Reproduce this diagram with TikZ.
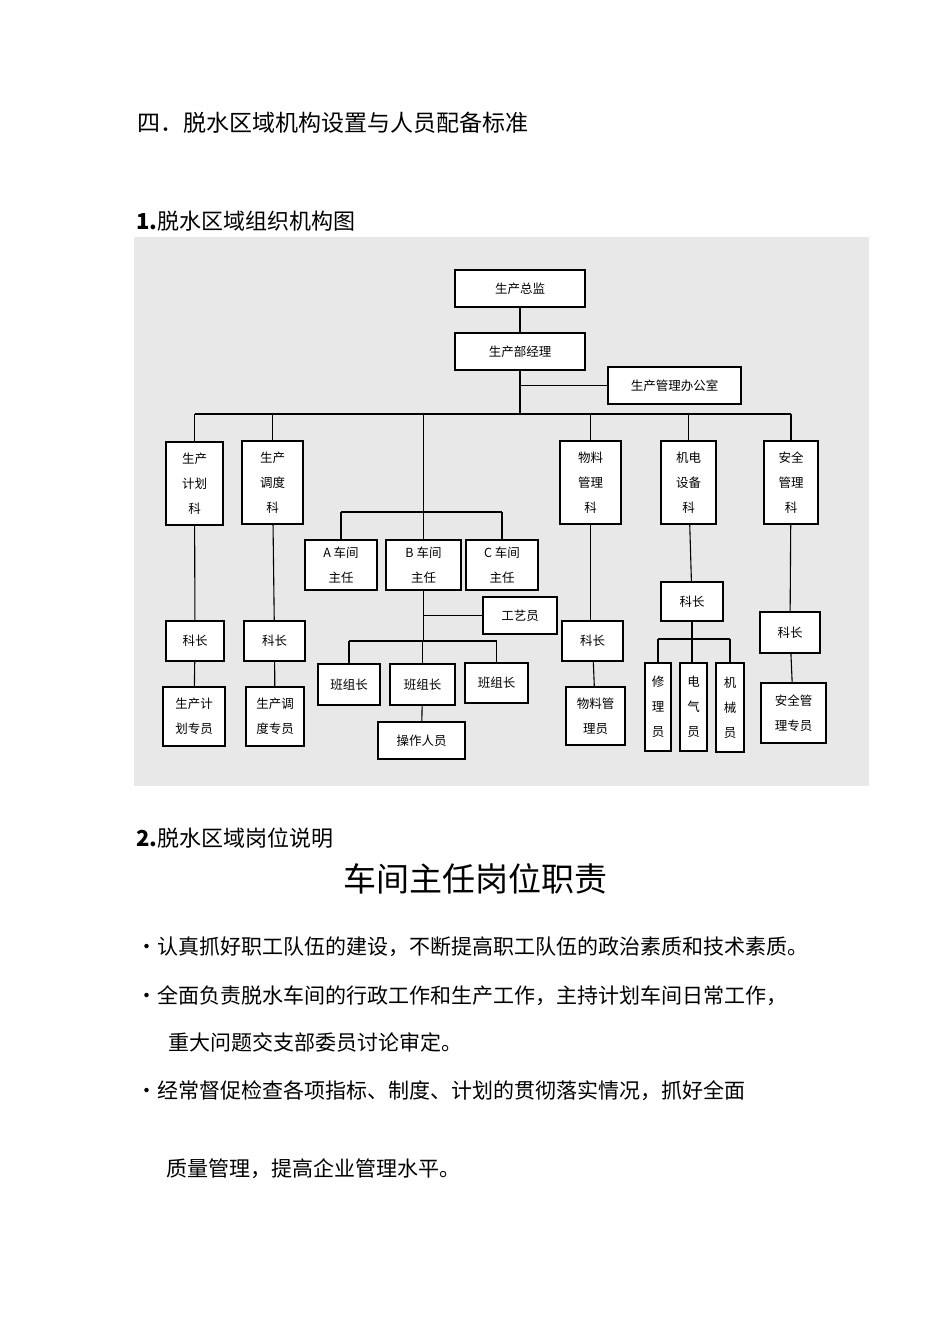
\documentclass[tikz,border=0pt]{standalone}
\usepackage{fontspec}
\newfontfamily\cjk{Noto Sans CJK SC}
\setmainfont{Noto Sans CJK SC}
\begin{document}
\begin{tikzpicture}[x=1pt,y=-1pt,
  box/.style={draw,line width=1.1pt,fill=white,inner sep=0pt,align=center,font=\cjk\fontsize{12.5}{25}\selectfont},
  ln/.style={line width=1.1pt},
  body/.style={anchor=base west,inner sep=0pt,font=\cjk\fontsize{21}{26}\selectfont}]
\useasboundingbox (0,0) rectangle (950,1344);
\fill[white] (0,0) rectangle (950,1344);
\fill[black!9] (134,237) rectangle (869,786);
% helper: node by corners
\newcommand\bx[6]{\node[box,minimum width=#4-#2,minimum height=#5-#3] (#1) at ({(#2+#4)/2},{(#3+#5)/2}) {#6};}
\bx{zj}{455}{270}{585}{307}{生产总监}
\bx{jl}{455}{333}{585}{370}{生产部经理}
\bx{bgs}{608}{367}{741}{404}{生产管理办公室}
\bx{jh}{166}{442}{223}{525}{生产\\计划\\科}
\bx{dd}{242}{441}{303}{524}{生产\\调度\\科}
\bx{wl}{560}{441}{621}{524}{物料\\管理\\科}
\bx{jd}{661}{441}{716}{524}{机电\\设备\\科}
\bx{aq}{764}{441}{818}{524}{安全\\管理\\科}
\bx{A}{305}{540}{377}{590}{A 车间\\主任}
\bx{B}{386}{540}{461}{590}{B 车间\\主任}
\bx{C}{466}{540}{538}{590}{C 车间\\主任}
\bx{gy}{483}{597}{557}{634}{工艺员}
\bx{b1}{318}{664}{380}{705}{班组长}
\bx{b2}{390}{664}{455}{705}{班组长}
\bx{b3}{465}{663}{528}{703}{班组长}
\bx{cz}{378}{722}{465}{759}{操作人员}
\bx{kz1}{166}{621}{224}{661}{科长}
\bx{kz2}{244}{621}{305}{661}{科长}
\bx{zy1}{163}{687}{225}{746}{生产计\\划专员}
\bx{zy2}{246}{687}{304}{746}{生产调\\度专员}
\bx{kz3}{562}{621}{623}{661}{科长}
\bx{wly}{566}{687}{625}{745}{物料管\\理员}
\bx{kz4}{661}{582}{723}{621}{科长}
\bx{xl}{645}{663}{671}{751}{修\\理\\员}
\bx{dq}{680}{663}{707}{751}{电\\气\\员}
\bx{jx}{716}{663}{744}{752}{机\\械\\员}
\bx{kz5}{760}{612}{820}{653}{科长}
\bx{aqy}{761}{683}{826}{743}{安全管\\理专员}
% connectors
\coordinate (bus) at (0,414);
\draw[ln] (zj) -- (jl);
\draw[ln] (jl.south) -- (jl.south |- bus);
\draw[ln] (jl.south |- bgs.west) -- (bgs.west);
\draw[ln] (jh.north |- bus) -- (aq.north |- bus);
\foreach \n in {jh,dd,wl,jd,aq} \draw[ln] (\n.north |- bus) -- (\n.north);
\draw[ln] (B.north |- bus) -- (B.north);
\coordinate (bus2) at (0,512);
\draw[ln] (A.north |- bus2) -- (A.north);
\draw[ln] (C.north |- bus2) -- (C.north);
\draw[ln] (A.north |- bus2) -- (C.north |- bus2);
\coordinate (bus3) at (0,641);
\draw[ln] (B.south) -- (B.south |- bus3);
\draw[ln] (B.south |- gy.west) -- (gy.west);
\draw[ln] (b1.north |- bus3) -- (b3.north |- bus3);
\foreach \n in {b1,b2,b3} \draw[ln] (\n.north |- bus3) -- (\n.north);
\draw[ln] (b2) -- (cz);
\draw[ln] (jh) -- (kz1); \draw[ln] (kz1) -- (zy1);
\draw[ln] (dd) -- (kz2); \draw[ln] (kz2) -- (zy2);
\draw[ln] (wl.south) -- (kz3.north -| wl.south); \draw[ln] (kz3) -- (wly);
\draw[ln] (jd) -- (kz4);
\coordinate (bus4) at (0,639);
\draw[ln] (kz4.south) -- (kz4.south |- dq.north);
\draw[ln] (xl.north |- bus4) -- (jx.north |- bus4);
\draw[ln] (xl.north |- bus4) -- (xl.north);
\draw[ln] (jx.north |- bus4) -- (jx.north);
\draw[ln] (aq) -- (kz5); \draw[ln] (kz5) -- (aqy);
% texts
\node[anchor=base west,inner sep=0pt,font=\cjk\fontsize{23}{26}\selectfont] (h1) at (137,131) {四．脱水区域机构设置与人员配备标准};
\node[anchor=base west,inner sep=0pt,font=\cjk\fontsize{22}{26}\selectfont] (h2) at (136,229) {\textbf{1.}脱水区域组织机构图};
\node[anchor=base west,inner sep=0pt,font=\cjk\fontsize{22}{26}\selectfont] (h3) at (136,846) {\textbf{2.}脱水区域岗位说明};
\node[anchor=base,inner sep=0pt,font=\cjk\fontsize{33}{36}\selectfont] (t) at (475,891) {车间主任岗位职责};
\node[body] (p1) at (136,954) {•认真抓好职工队伍的建设，不断提高职工队伍的政治素质和技术素质。};
\node[body] (p2) at (136,1003) {•全面负责脱水车间的行政工作和生产工作，主持计划车间日常工作，};
\node[body] (p3) at (168,1050) {重大问题交支部委员讨论审定。};
\node[body] (p4) at (136,1098) {•经常督促检查各项指标、制度、计划的贯彻落实情况，抓好全面};
\node[body] (p5) at (166,1176) {质量管理，提高企业管理水平。};
\end{tikzpicture}
\end{document}
